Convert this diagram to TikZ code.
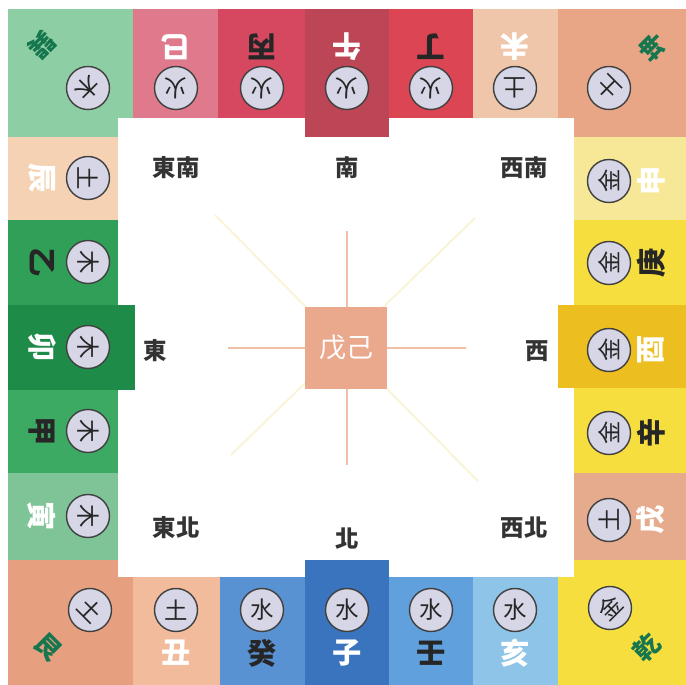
\documentclass[tikz,border=0pt]{standalone}
\usepackage{fontspec}
\usepackage{xcolor}
\usepackage{tikz}
\usetikzlibrary{positioning}
\newfontfamily\cjk{Noto Sans CJK TC}
\definecolor{xunGreen}{RGB}{142,206,164}
\definecolor{chenPeach}{RGB}{246,210,180}
\definecolor{siPink}{RGB}{222,122,140}
\definecolor{bingRed}{RGB}{214,72,96}
\definecolor{wuRose}{RGB}{188,70,86}
\definecolor{dingRed}{RGB}{220,70,84}
\definecolor{weiPeach}{RGB}{240,198,170}
\definecolor{kunSalmon}{RGB}{232,166,134}
\definecolor{shenYellow}{RGB}{247,232,152}
\definecolor{gengYellow}{RGB}{246,222,62}
\definecolor{youGold}{RGB}{236,190,32}
\definecolor{xuSalmon}{RGB}{230,170,140}
\definecolor{haiBlue}{RGB}{142,196,232}
\definecolor{renBlue}{RGB}{96,160,220}
\definecolor{ziBlue}{RGB}{58,116,190}
\definecolor{guiBlue}{RGB}{88,146,210}
\definecolor{chouSalmon}{RGB}{242,188,156}
\definecolor{genSalmon}{RGB}{230,160,128}
\definecolor{yinGreen}{RGB}{126,196,150}
\definecolor{jiaGreen}{RGB}{60,170,98}
\definecolor{maoGreen}{RGB}{30,140,72}
\definecolor{yiGreen}{RGB}{48,160,88}
\definecolor{guaGreen}{RGB}{22,118,78}
\definecolor{wxFill}{RGB}{214,214,230}
\definecolor{axisSalmon}{RGB}{240,192,166}
\definecolor{diagYellow}{RGB}{250,244,214}
\definecolor{midSalmon}{RGB}{234,168,140}

\begin{document}
\begin{tikzpicture}[
    x=0.03cm, y=-0.03cm,
    gan/.style={font=\cjk\bfseries\fontsize{25}{25}\selectfont, text=black!85, inner sep=0pt},
    zhi/.style={font=\cjk\bfseries\fontsize{25}{25}\selectfont, text=white, inner sep=0pt},
    gua/.style={font=\cjk\bfseries\fontsize{22}{22}\selectfont, text=guaGreen, inner sep=0pt},
    wx/.style={circle, draw=black!75, line width=1.2pt, fill=wxFill, minimum size=1.29cm,
               inner sep=0pt, font=\cjk\fontsize{20}{20}\selectfont, text=black!85},
    dir/.style={font=\cjk\bfseries\fontsize{20}{20}\selectfont, text=black!80, inner sep=0pt},
    axisln/.style={draw=axisSalmon, line width=1.6pt},
    diagln/.style={draw=diagYellow, line width=1.6pt},
]
\useasboundingbox (0,0) rectangle (686,685);
\fill[white] (0,0) rectangle (686,685);

% corners
\fill[xunGreen] (8,9) rectangle (133,137);
\fill[kunSalmon] (558,9) rectangle (686,137);
\fill[genSalmon] (8,560) rectangle (133,685);
\fill[gengYellow] (558,560) rectangle (686,685);
% top row
\fill[siPink] (133,9) rectangle (218,118);
\fill[bingRed] (218,9) rectangle (305,118);
\fill[dingRed] (389,9) rectangle (473,118);
\fill[weiPeach] (473,9) rectangle (558,118);
% left column
\fill[chenPeach] (8,137) rectangle (118,220);
\fill[yiGreen] (8,220) rectangle (118,305);
\fill[jiaGreen] (8,390) rectangle (118,473);
\fill[yinGreen] (8,473) rectangle (118,560);
% right column
\fill[shenYellow] (574,137) rectangle (686,220);
\fill[gengYellow] (574,220) rectangle (686,305);
\fill[gengYellow] (574,388) rectangle (686,473);
\fill[xuSalmon] (574,473) rectangle (686,560);
% bottom row
\fill[chouSalmon] (133,577) rectangle (220,685);
\fill[guiBlue] (220,577) rectangle (305,685);
\fill[renBlue] (389,577) rectangle (473,685);
\fill[haiBlue] (473,577) rectangle (558,685);

\fill[white] (118,118) rectangle (574,577);

% cardinal cells
\fill[wuRose] (305,9) rectangle (389,137);
\fill[maoGreen] (8,305) rectangle (135,390);
\fill[youGold] (558,305) rectangle (686,388);
\fill[ziBlue] (305,560) rectangle (389,685);

% centre
\coordinate (dNW) at (215,215);
\coordinate (dSE) at (478,481);
\coordinate (dNE) at (475,218);
\coordinate (dSW) at (231,455);
\coordinate (axN) at (347,231);
\coordinate (axS) at (347,465);
\coordinate (axW) at (228,348);
\coordinate (axE) at (466,348);
\draw[diagln] (dNW) -- (dSE);
\draw[diagln] (dNE) -- (dSW);
\draw[axisln] (axN) -- (axS);
\draw[axisln] (axW) -- (axE);
\node[fill=midSalmon, minimum size=2.46cm, inner sep=0pt, text=white,
      font=\cjk\fontsize{23}{23}\selectfont] (mid) at (346,348) {戊己};

% directions
\node[dir] (se) at (176,168) {東南};
\node[dir] (s) at (347,168) {南};
\node[dir] (sw) at (524,168) {西南};
\node[dir] (e) at (155,351) {東};
\node[dir] (w) at (537,351) {西};
\node[dir] (ne) at (176,528) {東北};
\node[dir] (n) at (347,539) {北};
\node[dir] (nw) at (524,528) {西北};

% top row
\node[gua, rotate=-135] (xun) at (42,45) {巽};
\node[wx, rotate=-135] (xun-e) at (88,88) {木};
\node[zhi, rotate=180] (si) at (176,47) {巳};
\node[wx, rotate=180] (si-e) at (176,88) {火};
\node[gan, rotate=180] (bing) at (262,47) {丙};
\node[wx, rotate=180] (bing-e) at (262,88) {火};
\node[zhi, rotate=180] (wu) at (347,47) {午};
\node[wx, rotate=180] (wu-e) at (347,88) {火};
\node[gan, rotate=180] (ding) at (431,47) {丁};
\node[wx, rotate=180] (ding-e) at (431,88) {火};
\node[zhi, rotate=180] (wei) at (515,47) {未};
\node[wx, rotate=180] (wei-e) at (515,88) {土};
\node[gua, rotate=135] (kun) at (652,47) {坤};
\node[wx, rotate=135] (kun-e) at (609,88) {土};

% left column
\node[zhi, rotate=-90] (chen) at (42,178) {辰};
\node[wx, rotate=-90] (chen-e) at (88,178) {土};
\node[gan, rotate=-90] (yi) at (42,262) {乙};
\node[wx, rotate=-90] (yi-e) at (88,262) {木};
\node[zhi, rotate=-90] (mao) at (42,347) {卯};
\node[wx, rotate=-90] (mao-e) at (88,347) {木};
\node[gan, rotate=-90] (jia) at (42,431) {甲};
\node[wx, rotate=-90] (jia-e) at (88,431) {木};
\node[zhi, rotate=-90] (yin) at (42,516) {寅};
\node[wx, rotate=-90] (yin-e) at (88,516) {木};

% right column
\node[zhi, rotate=90] (shen) at (651,181) {申};
\node[wx, rotate=90] (shen-e) at (609,181) {金};
\node[gan, rotate=90] (geng) at (651,263) {庚};
\node[wx, rotate=90] (geng-e) at (609,263) {金};
\node[zhi, rotate=90] (you) at (651,350) {酉};
\node[wx, rotate=90] (you-e) at (609,350) {金};
\node[gan, rotate=90] (xin) at (651,433) {辛};
\node[wx, rotate=90] (xin-e) at (609,433) {金};
\node[zhi, rotate=90] (xu) at (651,520) {戌};
\node[wx, rotate=90] (xu-e) at (609,520) {土};

% bottom row
\node[gua, rotate=-45] (gen) at (48,647) {艮};
\node[wx, rotate=-45] (gen-e) at (90,610) {土};
\node[zhi] (chou) at (176,653) {丑};
\node[wx] (chou-e) at (176,610) {土};
\node[gan] (gui) at (262,653) {癸};
\node[wx] (gui-e) at (262,610) {水};
\node[zhi] (zi) at (347,653) {子};
\node[wx] (zi-e) at (347,610) {水};
\node[gan] (ren) at (431,653) {壬};
\node[wx] (ren-e) at (431,610) {水};
\node[zhi] (hai) at (515,653) {亥};
\node[wx] (hai-e) at (515,610) {水};
\node[gua, rotate=45] (qian) at (647,647) {乾};
\node[wx, rotate=45] (qian-e) at (610,608) {金};
\end{tikzpicture}
\end{document}
